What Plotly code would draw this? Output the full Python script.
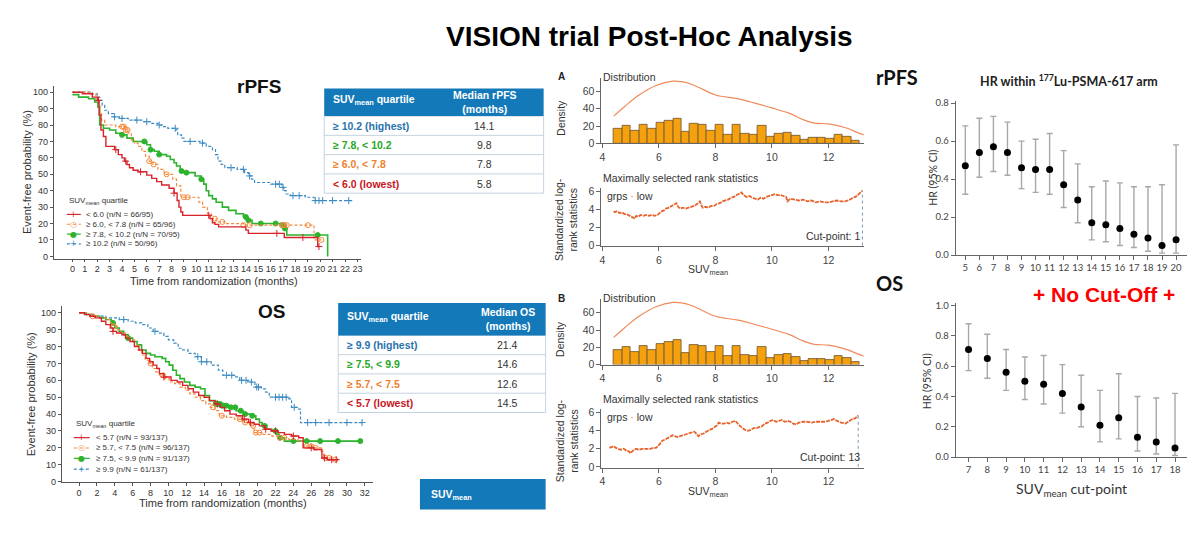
import numpy as np
import plotly.graph_objects as go

W, H = 1200, 542
ARIAL = "Liberation Sans, Arial, sans-serif"
CALI = "Lato, sans-serif"


def fx(px):
    return px / W


def fy(py):
    return 1 - py / H


# ---------------- rPFS Kaplan-Meier (months, % event-free) ----------------
rpfs_red_t = [0, 0.8, 1.6, 2.0, 2.15, 2.3, 2.5, 2.7, 3.4, 3.7, 4.0, 4.2, 4.4, 4.6, 4.9, 5.3, 6.0, 6.4,
              6.8, 7.2, 7.8, 8.2, 8.45, 8.6, 8.75, 8.9, 11.1, 11.3, 11.5, 11.8, 14.0, 14.2, 17.1, 19.8, 19.9]
rpfs_red_s = [100, 99, 97, 95, 86, 77, 73, 67, 65, 62, 60, 58, 56, 54, 52.5, 51.5, 49.5, 47.5,
              45.5, 43.5, 41.5, 38.5, 34, 30, 27, 25, 23, 20.5, 19.5, 18, 16, 14, 11.5, 6, 6]
rpfs_red_c = [2.1, 3.5, 4.3, 5.5, 8.2, 11.0, 16.5, 18.6, 19.9]

rpfs_org_t = [0, 1.4, 1.9, 2.1, 2.2, 2.35, 2.6, 3.5, 4.3, 4.5, 4.75, 5.0, 5.3, 5.6, 5.9, 6.2, 6.5, 6.9,
              7.4, 8.1, 8.4, 8.75, 10.2, 10.5, 10.9, 11.2, 11.6, 12.3, 13.8, 19.5, 20.1]
rpfs_org_s = [100, 99, 97, 93, 87, 83, 80, 79, 77, 75, 71, 69, 67, 64, 61, 58, 56, 53,
              50, 47, 43, 36, 33, 30, 26, 23, 21, 20, 19, 10, 10]
rpfs_org_c = [4.0, 4.15, 4.3, 4.45, 6.2, 6.55, 7.6, 9.0, 9.3, 11.5, 12.1, 13.8, 14.3, 16.9, 17.1,
              17.3, 19.0, 20.1]

rpfs_grn_t = [0, 0.5, 1.3, 1.8, 2.05, 2.2, 2.5, 3.0, 3.5, 4.0, 4.4, 4.9, 6.0, 6.3, 6.6, 7.0, 7.6, 7.9,
              8.2, 8.4, 8.7, 9.0, 9.9, 10.4, 10.6, 10.8, 11.0, 11.3, 11.6, 12.1, 12.6, 13.2, 13.8, 14.1,
              14.5, 16.9, 17.1, 17.3, 20.55, 20.6]
rpfs_grn_s = [98.5, 97, 96, 94, 91, 80, 78, 77, 75, 74, 72, 70, 68, 65, 64, 62, 61, 59,
              57, 55, 52, 51, 49, 47, 44, 40, 37, 35, 33, 30, 28, 26, 24, 22,
              20, 19, 17, 13, 13, 0]
rpfs_grn_c = [4.0, 5.8, 6.3, 7.0, 8.8, 9.2, 10.4, 14.0, 14.2, 15.2, 16.4, 17.0, 17.15, 19.8]

rpfs_blu_t = [0, 1.6, 2.0, 2.2, 2.4, 2.6, 2.9, 3.3, 3.8, 4.5, 5.6, 6.3, 6.9, 7.2, 7.7, 8.35, 8.5, 8.8,
              9.0, 10.3, 10.8, 11.3, 11.55, 11.75, 12.0, 12.3, 13.3, 13.9, 14.2, 14.45, 14.7, 16.0,
              16.9, 17.05, 17.25, 17.6, 18.8, 19.5, 22.6]
rpfs_blu_s = [100, 99, 97, 95, 92, 89, 87, 85, 84, 83, 82, 81, 80, 79, 78, 77, 74, 72,
              70, 69, 67, 65, 62, 58, 56, 54, 53, 51, 49, 47, 45, 44,
              42, 40, 38, 37, 36, 34, 34]
rpfs_blu_c = [3.4, 4.0, 5.2, 6.0, 7.0, 8.3, 9.5, 10.5, 12.8, 13.8, 14.3, 16.4, 16.7, 17.0, 17.8,
              18.3, 19.6, 19.9, 20.2, 21.0, 22.3]

rpfs_legend = ["< 6.0 (n/N = 66/95)", "≥ 6.0, < 7.8 (n/N = 65/96)",
               "≥ 7.8, < 10.2 (n/N = 70/95)", "≥ 10.2 (n/N = 50/96)"]

# ---------------- OS Kaplan-Meier ----------------
os_red_t = [0, 0.6, 1.2, 1.8, 2.5, 3.0, 3.5, 3.8, 4.2, 4.8, 5.2, 5.7, 6.2, 6.7, 7.1, 7.5, 7.9, 8.3,
            8.7, 9.0, 9.5, 10.3, 11.0, 11.6, 12.2, 12.8, 13.4, 14.0, 14.6, 15.2, 15.8, 16.3, 16.9,
            17.6, 18.3, 19.0, 19.6, 20.2, 20.8, 21.5, 22.3, 23.0, 23.8, 24.6, 25.1, 26.3, 27.2, 27.8,
            29.0]
os_red_s = [100, 99, 98, 97, 95, 93, 91, 89, 88, 87, 85, 83, 80, 78, 76, 73, 71, 69,
            67, 64, 62, 60, 59, 57, 55, 53, 51, 50, 48, 46, 44, 42, 40,
            39, 37, 35, 34, 33, 31, 30, 29, 28, 27, 26, 20, 19, 14, 13,
            13]
os_red_c = [3.8, 9.5, 15.5, 18.5, 19.2, 20.9, 22.0, 24.0, 26.0, 27.5, 28.3, 28.8]

os_org_t = [0, 1.0, 1.5, 2.2, 3.0, 3.5, 3.9, 4.3, 4.7, 5.2, 5.7, 6.2, 6.6, 7.0, 7.4, 7.8, 8.2, 8.6,
            9.0, 9.5, 10.1, 10.7, 11.3, 11.9, 12.4, 13.0, 13.6, 14.2, 14.7, 15.2, 15.7, 16.5, 17.4,
            18.3, 19.1, 19.6, 20.6, 21.6, 22.4, 23.5, 24.5, 25.1, 26.2, 27.1, 27.4, 28.3, 28.7]
os_org_s = [100, 99, 98, 97, 96, 94, 92, 90, 88, 86, 84, 81, 78, 75, 72, 70, 67, 65,
            63, 61, 59, 58, 56, 54, 52, 50, 48, 46, 44, 42, 39, 38, 37,
            35, 33, 29, 28, 27, 26, 25, 24, 21, 20, 18, 14, 13, 13]
os_org_c = [1.5, 3.9, 8.0, 9.4, 15.0, 16.0, 18.0, 18.6, 19.5, 19.8, 20.2, 22.5, 23.0, 25.5, 26.0,
            26.5, 27.6, 28.0, 28.7]

os_grn_t = [0, 0.8, 1.5, 2.3, 3.0, 3.6, 4.0, 4.5, 5.0, 5.5, 6.0, 6.5, 7.0, 7.5, 8.0, 8.5, 9.3, 9.7,
            10.1, 10.5, 10.9, 11.3, 11.8, 12.4, 13.0, 13.6, 14.1, 14.6, 15.3, 16.0, 16.8, 17.6, 18.4,
            19.2, 19.8, 20.2, 20.5, 21.0, 21.6, 22.1, 22.4, 23.0, 31.5]
os_grn_s = [100, 99, 98, 97, 96, 94, 91, 89, 87, 85, 83, 81, 78, 76, 75, 74, 73, 71,
            69, 66, 63, 61, 59, 57, 56, 55, 51, 48, 46, 45, 44, 42, 40,
            39, 37, 35, 33, 31, 30, 28, 26, 24, 24]
os_grn_c = [3.8, 5.5, 15.3, 15.5, 15.8, 16.0, 16.2, 16.5, 17.0, 17.5, 18.1, 18.6, 19.4, 20.8,
            22.0, 22.5, 24.0, 25.5, 27.0, 29.0, 31.5]

os_blu_t = [0, 1.0, 1.6, 3.0, 4.5, 5.5, 6.3, 7.0, 7.7, 8.3, 8.9, 9.5, 10.0, 10.6, 11.1, 11.6, 12.2,
            13.0, 13.7, 14.8, 15.6, 16.1, 17.4, 18.0, 18.9, 19.7, 20.4, 20.9, 21.3, 23.5, 23.8, 24.5,
            24.8, 31.7]
os_blu_s = [100, 99, 98, 97, 96, 95, 94, 93, 91, 89, 88, 86, 84, 82, 79, 78, 76,
            74, 71, 69, 66, 63, 62, 60, 59, 56, 55, 53, 50, 49, 44, 43,
            35, 35]
os_blu_c = [5.0, 8.5, 13.3, 13.7, 14.3, 16.5, 17.1, 18.2, 18.7, 19.3, 19.9, 20.1, 22.0, 22.4, 22.8,
            23.2, 24.1, 25.6, 26.5, 28.0, 30.0, 31.7]

os_legend = ["< 5.7 (n/N = 93/137)", "≥ 5.7, < 7.5 (n/N = 96/137)",
             "≥ 7.5, < 9.9 (n/N = 91/137)", "≥ 9.9 (n/N = 61/137)"]

# ---------------- Tables ----------------
rpfs_tab_labels = ["≥ 10.2 (highest)", "≥ 7.8, < 10.2", "≥ 6.0, < 7.8", "< 6.0 (lowest)"]
rpfs_tab_medians = ["14.1", "9.8", "7.8", "5.8"]
os_tab_labels = ["≥ 9.9 (highest)", "≥ 7.5, < 9.9", "≥ 5.7, < 7.5", "< 5.7 (lowest)"]
os_tab_medians = ["21.4", "14.6", "12.6", "14.5"]

# ---------------- SUVmean distribution (identical in A and B) ----------------
hist_centers = [4.55, 4.85, 5.15, 5.45, 5.75, 6.05, 6.35, 6.65, 6.95, 7.25, 7.55, 7.85, 8.15, 8.45,
                8.75, 9.05, 9.35, 9.65, 9.95, 10.25, 10.55, 10.85, 11.15, 11.45, 11.75, 12.05,
                12.35, 12.65, 12.95]
hist_counts = [17, 20, 15, 21, 17, 24, 26, 28, 14, 23, 22, 15, 21, 10, 21, 11, 10, 20, 8, 11, 12,
               9, 4, 7, 6, 5, 10, 8, 3]
dens_x = [4.4, 4.8, 5.3, 5.9, 6.5, 6.8, 7.1, 7.4, 8.0, 8.8, 9.4, 10.0, 10.6, 11.1, 11.5, 12.0,
          12.6, 13.1, 13.25]
dens_y = [31.5, 43, 56, 67, 72, 71.5, 69, 65, 56, 51.5, 46.5, 41, 35, 27.5, 23.5, 22.5,
          18, 11.5, 10]

# ---------------- Maximally selected rank statistics ----------------
rankA_x = [4.40, 4.45, 4.50, 4.55, 4.62, 4.70, 4.78, 4.85, 4.92, 5.00, 5.05, 5.10, 5.15, 5.20,
           5.28, 5.35, 5.45, 5.55, 5.65, 5.75, 5.85, 5.95, 6.02, 6.10, 6.18, 6.25, 6.35, 6.45,
           6.55, 6.62, 6.68, 6.75, 6.85, 6.95, 7.05, 7.15, 7.25, 7.35, 7.45, 7.50, 7.55, 7.65,
           7.75, 7.85, 7.95, 8.05, 8.15, 8.25, 8.35, 8.45, 8.55, 8.65, 8.75, 8.85, 8.92, 9.00,
           9.10, 9.20, 9.30, 9.40, 9.50, 9.60, 9.70, 9.80, 9.90, 10.0, 10.1, 10.2, 10.3, 10.4,
           10.5, 10.55, 10.65, 10.8, 10.95, 11.1, 11.25, 11.4, 11.55, 11.7, 11.85, 12.0, 12.15,
           12.3, 12.45, 12.6, 12.75, 12.9, 13.0, 13.1, 13.2]
rankA_y = [3.8, 3.7, 3.8, 3.7, 3.6, 3.7, 3.5, 3.5, 3.4, 3.3, 3.2, 3.1, 3.0, 3.3,
           3.2, 3.4, 3.3, 3.4, 3.3, 3.4, 3.3, 3.4, 3.6, 3.8, 3.9, 4.1, 4.2, 4.4,
           4.6, 4.7, 4.3, 4.1, 4.2, 4.1, 4.2, 4.3, 4.4, 4.6, 4.9, 4.5, 4.2, 4.3,
           4.2, 4.4, 4.4, 4.6, 4.7, 4.9, 5.0, 5.1, 5.3, 5.4, 5.6, 5.8, 5.9, 5.6,
           5.4, 5.5, 5.3, 5.2, 5.1, 5.3, 5.2, 5.4, 5.5, 5.6, 5.7, 5.6, 5.6, 5.5,
           5.4, 4.9, 5.2, 5.1, 5.0, 5.1, 4.9, 5.0, 4.8, 4.9, 4.8, 4.8, 4.9,
           5.0, 4.9, 4.9, 5.1, 5.3, 5.5, 5.8, 6.1]
cutA = 13.2

rankB_x = [4.25, 4.32, 4.40, 4.48, 4.55, 4.65, 4.75, 4.85, 4.95, 5.00, 5.05, 5.12, 5.20, 5.30,
           5.40, 5.50, 5.60, 5.70, 5.80, 5.90, 5.97, 6.05, 6.12, 6.20, 6.28, 6.38, 6.48, 6.55,
           6.65, 6.75, 6.85, 6.95, 7.05, 7.15, 7.25, 7.32, 7.40, 7.48, 7.58, 7.68, 7.78, 7.88,
           7.98, 8.05, 8.12, 8.20, 8.30, 8.40, 8.50, 8.60, 8.70, 8.78, 8.85, 8.95, 9.05, 9.15,
           9.25, 9.35, 9.45, 9.55, 9.65, 9.75, 9.85, 9.95, 10.05, 10.15, 10.25, 10.35, 10.45,
           10.55, 10.65, 10.75, 10.85, 10.95, 11.1, 11.25, 11.4, 11.55, 11.7, 11.85, 12.0, 12.1,
           12.2, 12.3, 12.45, 12.6, 12.75, 12.85, 12.95, 13.05]
rankB_y = [2.1, 2.2, 2.3, 2.1, 2.0, 1.9, 2.0, 1.8, 1.7, 1.5, 1.7, 1.9, 2.0, 1.9,
           2.0, 2.0, 2.0, 2.0, 2.1, 2.1, 2.3, 2.6, 2.9, 3.0, 3.1, 3.3, 3.5, 3.4,
           3.3, 3.4, 3.5, 3.6, 3.7, 3.8, 3.9, 3.7, 3.4, 3.6, 3.7, 3.9, 4.1, 4.2,
           4.4, 4.6, 4.9, 4.8, 4.8, 4.9, 4.8, 5.0, 5.1, 4.8, 4.6, 4.3, 4.1, 4.0,
           4.1, 4.3, 4.3, 4.4, 4.5, 4.8, 4.9, 5.1, 5.2, 5.0, 5.1, 5.2, 5.0,
           5.1, 5.0, 4.8, 4.7, 4.9, 5.0, 5.0, 4.9, 5.0, 5.0, 5.0, 5.1, 5.2,
           5.3, 5.1, 4.9, 4.8, 5.1, 5.3, 5.4, 5.7]
cutB = 13.05

# ---------------- HR by cut-point ----------------
hr_rpfs_cut = [5, 6, 7, 8, 9, 10, 11, 12, 13, 14, 15, 16, 17, 18, 19, 20]
hr_rpfs = [0.47, 0.54, 0.57, 0.54, 0.46, 0.45, 0.45, 0.37, 0.29, 0.17, 0.16, 0.14, 0.11, 0.09, 0.05, 0.08]
hr_rpfs_lo = [0.32, 0.41, 0.44, 0.42, 0.35, 0.33, 0.32, 0.25, 0.17, 0.08, 0.07, 0.05, 0.04, 0.02, 0.01, 0.01]
hr_rpfs_hi = [0.68, 0.72, 0.73, 0.70, 0.60, 0.61, 0.64, 0.55, 0.48, 0.36, 0.39, 0.38, 0.36, 0.36, 0.37, 0.58]

hr_os_cut = [7, 8, 9, 10, 11, 12, 13, 14, 15, 16, 17, 18]
hr_os = [0.71, 0.65, 0.56, 0.50, 0.48, 0.42, 0.33, 0.21, 0.26, 0.13, 0.10, 0.06]
hr_os_lo = [0.57, 0.52, 0.44, 0.38, 0.35, 0.29, 0.20, 0.10, 0.12, 0.04, 0.02, 0.01]
hr_os_hi = [0.88, 0.81, 0.71, 0.66, 0.67, 0.61, 0.54, 0.44, 0.55, 0.40, 0.39, 0.42]

# ---------------- styles ----------------
C_RED = "#D8232A"
C_ORG = "#F4883A"
C_GRN = "#2DB32D"
C_BLU = "#3B8BC2"
T_RED = "#C8161E"
T_ORG = "#F07F2E"
T_GRN = "#27A827"
T_BLU = "#2B73AE"
HEAD = "#1479B8"
BAR = "#F5A00F"
CURVE = "#F08A5B"
RANK = "#E8632B"

fig = go.Figure()


def step_at(t, s, tc):
    idx = np.searchsorted(np.asarray(t), np.asarray(tc), side="right") - 1
    return [s[i] for i in idx]


def km(xa, ya, t, s, cens, color, dash, width, sym, msize):
    fig.add_trace(go.Scatter(x=t, y=s, mode="lines", xaxis=xa, yaxis=ya, hoverinfo="skip",
                             line=dict(color=color, width=width, dash=dash, shape="hv")))
    fig.add_trace(go.Scatter(x=cens, y=step_at(t, s, cens), mode="markers", xaxis=xa, yaxis=ya,
                             marker=dict(symbol=sym, size=msize, color=color,
                                         line=dict(color=color, width=1))))


DASH = "3px,2px"
# rPFS
km("x", "y", rpfs_blu_t, rpfs_blu_s, rpfs_blu_c, C_BLU, DASH, 1.2, "cross-thin", 5)
km("x", "y", rpfs_grn_t, rpfs_grn_s, rpfs_grn_c, C_GRN, "solid", 1.6, "circle", 5)
km("x", "y", rpfs_org_t, rpfs_org_s, rpfs_org_c, C_ORG, DASH, 1.2, "circle-open", 5)
km("x", "y", rpfs_red_t, rpfs_red_s, rpfs_red_c, C_RED, "solid", 1.4, "cross-thin", 5)
# OS
km("x2", "y2", os_blu_t, os_blu_s, os_blu_c, C_BLU, DASH, 1.2, "cross-thin", 5)
km("x2", "y2", os_grn_t, os_grn_s, os_grn_c, C_GRN, "solid", 1.6, "circle", 5)
km("x2", "y2", os_org_t, os_org_s, os_org_c, C_ORG, DASH, 1.2, "circle-open", 5)
km("x2", "y2", os_red_t, os_red_s, os_red_c, C_RED, "solid", 1.4, "cross-thin", 5)

# Distribution panels
for xa, ya in (("x3", "y3"), ("x5", "y5")):
    fig.add_trace(go.Bar(x=hist_centers, y=hist_counts, width=0.3, xaxis=xa, yaxis=ya,
                         marker=dict(color=BAR, line=dict(color="#6A5430", width=0.8))))
    fig.add_trace(go.Scatter(x=dens_x, y=dens_y, mode="lines", xaxis=xa, yaxis=ya,
                             line=dict(color=CURVE, width=1.2, shape="spline")))

fig.add_trace(go.Scatter(x=rankA_x, y=rankA_y, mode="lines", xaxis="x4", yaxis="y4",
                         line=dict(color=RANK, width=1.8, dash="4px,1px")))
fig.add_trace(go.Scatter(x=rankB_x, y=rankB_y, mode="lines", xaxis="x6", yaxis="y6",
                         line=dict(color=RANK, width=1.8, dash="4px,1px")))


def hr_trace(xa, ya, cut, hr, lo, hi):
    up = [h - m for h, m in zip(hi, hr)]
    dn = [m - l for m, l in zip(hr, lo)]
    fig.add_trace(go.Scatter(x=cut, y=hr, mode="markers", xaxis=xa, yaxis=ya,
                             marker=dict(color="black", size=7),
                             error_y=dict(type="data", array=up, arrayminus=dn, color="#A8A8A8",
                                          thickness=1.4, width=3)))


hr_trace("x7", "y7", hr_rpfs_cut, hr_rpfs, hr_rpfs_lo, hr_rpfs_hi)
hr_trace("x8", "y8", hr_os_cut, hr_os, hr_os_lo, hr_os_hi)


# ---------------- axes ----------------
def ax(dom, rng, anchor, tickvals, size=9, family=ARIAL, color="#333", line="#555", fmt=None, tl=4):
    d = dict(domain=dom, range=rng, anchor=anchor, tickvals=tickvals, showgrid=False,
             zeroline=False, showline=True, linecolor=line, linewidth=1, ticks="outside",
             ticklen=tl, tickcolor=line, tickfont=dict(family=family, size=size, color=color))
    if fmt:
        d["tickformat"] = fmt
    return d


MID = dict(size=10.5, color="#444", line="#666")
RGT = dict(size=9.5, family=CALI, color="#444", line="#666")
layout_axes = dict(
    xaxis=ax([fx(52), fx(360)], [-1.5, 23.3], "y", list(range(0, 24)), tl=2),
    yaxis=ax([fy(260), fy(84)], [-1.4, 104], "x", list(range(0, 101, 10)), tl=3),
    xaxis2=ax([fx(60), fx(372)], [-1.93, 32.93], "y2", list(range(0, 33, 2)), tl=3),
    yaxis2=ax([fy(486.7), fy(308)], [0, 104.1], "x2", list(range(0, 101, 10)), tl=3),
    xaxis3=ax([fx(601), fx(864)], [3.97, 13.25], "y3", [4, 6, 8, 10, 12], **MID),
    yaxis3=ax([fy(142.7), fy(76)], [0, 76], "x3", [0, 20, 40, 60], **MID),
    xaxis4=ax([fx(601), fx(864)], [3.97, 13.25], "y4", [4, 6, 8, 10, 12], **MID),
    yaxis4=ax([fy(247.6), fy(188)], [-0.1, 6.4], "x4", [0, 2, 4, 6], **MID),
    xaxis5=ax([fx(601), fx(864)], [3.97, 13.25], "y5", [4, 6, 8, 10, 12], **MID),
    yaxis5=ax([fy(367.7), fy(301)], [0, 76], "x5", [0, 20, 40, 60], **MID),
    xaxis6=ax([fx(601), fx(864)], [3.97, 13.25], "y6", [4, 6, 8, 10, 12], **MID),
    yaxis6=ax([fy(472.6), fy(413)], [-0.1, 6.4], "x6", [0, 2, 4, 6], **MID),
    xaxis7=ax([fx(956), fx(1188)], [4.31, 20.78], "y7", hr_rpfs_cut, **RGT),
    yaxis7=ax([fy(256.3), fy(99.3)], [0, 0.813], "x7", [0, 0.2, 0.4, 0.6, 0.8], fmt=".1f", **RGT),
    xaxis8=ax([fx(956), fx(1188)], [6.31, 18.64], "y8", hr_os_cut, **RGT),
    yaxis8=ax([fy(461.7), fy(305)], [0, 1.017], "x8", [0, 0.2, 0.4, 0.6, 0.8, 1.0], fmt=".1f", **RGT),
)

# ---------------- annotations & shapes ----------------
ann = []
shapes = []


def A(text, x, y, size, color="#222", xa="center", family=ARIAL, angle=0):
    ann.append(dict(text=text, x=fx(x), y=fy(y), xref="paper", yref="paper", showarrow=False,
                    xanchor=xa, yanchor="middle", textangle=angle,
                    font=dict(family=family, size=size, color=color)))


def rect(x0, x1, y0, y1, fill, line=None):
    shapes.append(dict(type="rect", xref="paper", yref="paper", x0=fx(x0), x1=fx(x1),
                       y0=fy(y1), y1=fy(y0), fillcolor=fill,
                       line=dict(width=1 if line else 0, color=line or fill), layer="below"))


def hline(x0, x1, y, col, w=1, dash="solid"):
    shapes.append(dict(type="line", xref="paper", yref="paper", x0=fx(x0), x1=fx(x1),
                       y0=fy(y), y1=fy(y), line=dict(color=col, width=w, dash=dash)))


A("<b>VISION trial Post-Hoc Analysis</b>", 649, 34, 28, "#000")
A("<b>rPFS</b>", 258, 85, 19, "#111")
A("<b>OS</b>", 270, 314, 19, "#111")
A("Event-free probability (%)", 25, 172, 11, "#333", angle=-90)
A("Event-free probability (%)", 29, 398, 11, "#333", angle=-90)
A("Time from randomization (months)", 213, 283, 11, "#333")
A("Time from randomization (months)", 222, 508, 11, "#333")


# manual KM legends
def legend(x0, ytitle, ys, labels, linelen, txt_dx):
    A("SUV<sub>mean</sub> quartile", x0, ytitle, 8, "#333", xa="left")
    styles = [(C_RED, "solid", "+"), (C_ORG, "dot", "○"), (C_GRN, "solid", "●"), (C_BLU, "dot", "+")]
    for (col, dash, g), yy, lab in zip(styles, ys, labels):
        hline(x0, x0 + linelen, yy, col, 1.2, dash)
        A(g, x0 + linelen / 2, yy, 8, col, family="DejaVu Sans")
        A(lab, x0 + txt_dx, yy, 8, "#333", xa="left")


legend(65, 201, [215, 225, 235, 245], rpfs_legend, 14, 17)
legend(72, 428, [442, 452.5, 463, 474], os_legend, 16, 20)


# summary tables drawn from the table lists
def table(x0, x1, ytop, head_h, row_h, head2, labels, meds, xmed):
    colors = [T_BLU, T_GRN, T_ORG, T_RED]
    ybot = ytop + head_h + row_h * len(labels)
    rect(x0, x1, ytop + head_h, ybot, "white", "#C5D3DF")
    rect(x0, x1, ytop, ytop + head_h, HEAD)
    A("<b>SUV<sub>mean</sub> quartile</b>", x0 + 7, ytop + head_h / 2 - 2, 10.5, "white", xa="left")
    A(head2, xmed, ytop + head_h / 2, 10.5, "white")
    for i, (lab, med) in enumerate(zip(labels, meds)):
        yc = ytop + head_h + row_h * (i + 0.5)
        if i > 0:
            hline(x0, x1, ytop + head_h + row_h * i, "#C5D3DF", 1)
        A("<b>%s</b>" % lab, x0 + 7, yc, 10.5, colors[i], xa="left")
        A(med, xmed, yc, 10.5, "#333")


table(323, 543, 87, 28, 19.6, "<b>Median rPFS<br>(months)</b>", rpfs_tab_labels, rpfs_tab_medians, 484)
table(337, 545, 305, 33, 19.6, "<b>Median OS<br>(months)</b>", os_tab_labels, os_tab_medians, 507)

# middle panels
for top, label, cut_txt in ((0, "A", "Cut-point: 1"), (225, "B", "Cut-point: 13")):
    A("<b>%s</b>" % label, 561, 75 + top, 10, "#222")
    A("Distribution", 600, 75 + top, 10.5, "#333", xa="left")
    A("Density", 560, 117 + top, 10.5, "#333", angle=-90)
    A("Maximally selected rank statistics", 600, 177.5 + top, 10.5, "#333", xa="left")
    A("grps <span style='color:%s'>·</span> low" % RANK, 605, 196 + top, 10.5, "#333", xa="left")
    A(cut_txt, 862, 237 + top, 10.5, "#333", xa="right")
    A("Standardized log-<br>rank statistics", 566, 220 + top, 10.5, "#333", angle=-90)
    A("SUV<sub>mean</sub>", 708, 272 + top, 10.5, "#333")

shapes.append(dict(type="line", xref="x4", yref="y4", x0=cutA, x1=cutA, y0=0, y1=6.1,
                   line=dict(color="#7A9BB5", width=1, dash="dot")))
shapes.append(dict(type="line", xref="x6", yref="y6", x0=cutB, x1=cutB, y0=0, y1=5.7,
                   line=dict(color="#7A9BB5", width=1, dash="dot")))

# right panels
A("<b>rPFS</b>", 874, 75, 20, "#111", xa="left", family=CALI)
A("<b>HR within <sup>177</sup>Lu-PSMA-617 arm</b>", 1070, 79, 12.5, "#222", family=CALI)
A("HR (95% CI)", 933, 178, 10.5, "#333", family=CALI, angle=-90)
A("<b>OS</b>", 874, 285, 20, "#111", xa="left", family=CALI)
A("<b>+ No Cut-Off +</b>", 1105, 296, 21, "#FF0000")
A("HR (95% CI)", 927, 385, 10.5, "#333", family=CALI, angle=-90)
A("SUV<sub>mean</sub> cut-point", 1072, 495, 14, "#333", family=CALI)

# lone header box at bottom
rect(419, 545, 484, 515, HEAD)
A("<b>SUV<sub>mean</sub></b>", 428, 500, 10.5, "white", xa="left")

fig.update_layout(width=W, height=H, margin=dict(l=0, r=0, t=0, b=0), paper_bgcolor="white",
                  plot_bgcolor="rgba(0,0,0,0)", showlegend=False, annotations=ann, shapes=shapes,
                  bargap=0, **layout_axes)

fig.write_html("out.html")
